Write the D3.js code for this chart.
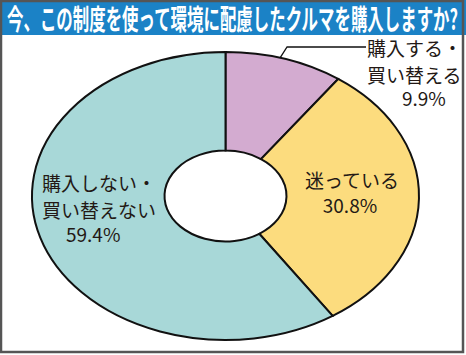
<!DOCTYPE html>
<html><head><meta charset="utf-8">
<script src="https://cdn.jsdelivr.net/npm/d3@7"></script>
<style>body{margin:0;background:#fff}svg{display:block}</style>
</head><body>
<script>
const title = "今、この制度を使って環境に配慮したクルマを購入しますか?";
const categories = ["購入する・買い替える", "迷っている", "購入しない・買い替えない"];
const values = [9.9, 30.8, 59.4];
const colors = ["#d3abd0", "#fcdc7e", "#a8d8d8"];

const W = 466, H = 355;
const svg = d3.select("body").append("svg").attr("width", W).attr("height", H);
svg.append("rect").attr("x",0).attr("y",0).attr("width",W).attr("height",H).attr("fill","#fff");

// title bar
svg.append("rect").attr("x",0).attr("y",0).attr("width",W).attr("height",35).attr("fill","#1b82c6");
svg.append("text").attr("x",7).attr("y",30)
  .attr("font-family","Noto Sans CJK JP").attr("font-weight","bold").attr("font-size",28)
  .attr("fill","#fff").attr("textLength",451).attr("lengthAdjust","spacingAndGlyphs")
  .text(title);

// border
svg.append("rect").attr("x",1).attr("y",1).attr("width",W-4).attr("height",H-4)
  .attr("fill","none").attr("stroke","#555").attr("stroke-width",2.5);

const cx = 225.5, cy = 196, R = 193.5, r = 61, sy = 0.744;
const pie = d3.pie().sort(null).value(d => d);
const arcs = pie(values);
const arc = d3.arc().outerRadius(R).innerRadius(r);
const g = svg.append("g").attr("transform", `translate(${cx},${cy}) scale(1,${sy})`);
g.selectAll("path").data(arcs).join("path")
  .attr("d", arc).attr("fill", (d,i) => colors[i])
  .attr("stroke", "#111").attr("stroke-width", 2).attr("vector-effect","non-scaling-stroke");

// leader line for first slice
const a0 = arcs[0];
const ang = a0.startAngle + (a0.endAngle - a0.startAngle) * 0.46;
const px = cx + R * Math.sin(ang), py = cy - R * sy * Math.cos(ang);
svg.append("path").attr("d", `M${px},${py}L${px+7},47L366,47`)
  .attr("fill","none").attr("stroke","#111").attr("stroke-width",1.3);

const font = "Noto Sans CJK JP";
function label(lines, xs, ys, anchor) {
  const t = svg.append("text").attr("font-family", font).attr("font-size", 19)
    .attr("fill", "#231815").attr("text-anchor", anchor);
  lines.forEach((l, i) => t.append("tspan").attr("x", xs[i]).attr("y", ys[i]).text(l));
}
function pct(v){ return v.toFixed(1) + "%"; }
label(["購入する・", "買い替える", pct(values[0])], [367, 367, 402], [56, 83, 106], "start");
label(["迷っている", pct(values[1])], [352, 350], [188, 213], "middle");
label(["購入しない・", "買い替えない", pct(values[2])], [42, 42, 66], [191, 218, 242], "start");
</script>
</body></html>
